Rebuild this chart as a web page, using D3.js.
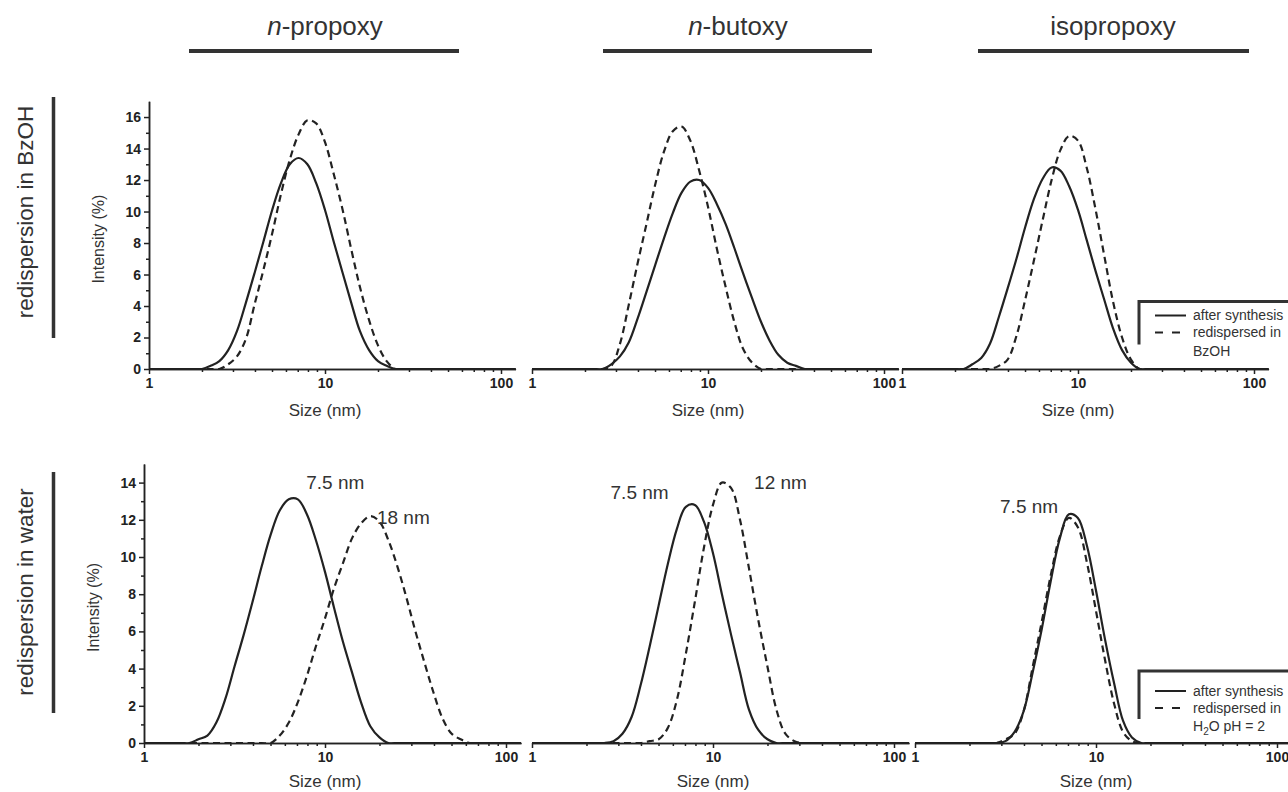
<!DOCTYPE html>
<html>
<head>
<meta charset="utf-8">
<script src="https://cdn.jsdelivr.net/npm/d3@7"></script>
<style>
  html, body { margin: 0; padding: 0; background: #fff; }
  svg { display: block; font-family: "Liberation Sans", Arial, sans-serif; }
  .axis path, .axis line { stroke: #222; stroke-width: 1.5; }
  .axis text { font-size: 14px; font-weight: bold; fill: #222; font-family: "Liberation Sans", Arial, sans-serif; }
</style>
</head>
<body>
<svg id="chart" width="1288" height="792"></svg>
<script>
// DLS size bins (nm), shared by every curve
var sizes = [1.00, 1.12, 1.26, 1.41, 1.58, 1.78, 2.00, 2.24, 2.51, 2.82, 3.16, 3.55, 3.98, 4.47, 5.01,
  5.62, 6.31, 7.08, 7.94, 8.91, 10.0, 11.2, 12.6, 14.1, 15.8, 17.8, 20.0, 22.4, 25.1, 28.2,
  31.6, 35.5, 39.8, 44.7, 50.1, 56.2, 63.1, 70.8, 79.4, 89.1, 100, 112, 126];

// intensity (%) per bin — top row: redispersion in BzOH
var propoxyBzohAfter = [0,0,0,0,0,0,0, 0.2,0.5,1.2,2.4,4.2,6.1,8.1,10.1,11.8,13.0,13.4,13.0,11.8,10.1,8.1,6.1,4.2,2.4,1.2,0.5,0.2, 0,0,0,0,0,0,0,0,0,0,0,0,0,0,0];
var propoxyBzohRedisp = [0,0,0,0,0,0,0,0,0, 0.3,0.8,1.9,4.1,6.3,8.6,11.1,13.3,14.9,15.8,15.6,14.4,12.4,10.1,7.6,5.2,3.1,1.5,0.5, 0,0,0,0,0,0,0,0,0,0,0,0,0,0,0];
var butoxyBzohAfter = [0,0,0,0,0,0,0,0,0, 0.3,0.8,1.7,3.2,4.9,6.6,8.3,9.9,11.2,11.9,12.0,11.5,10.5,9.2,7.7,6.1,4.5,3.0,1.8,0.9,0.4,0.2, 0,0,0,0,0,0,0,0,0,0,0,0];
var butoxyBzohRedisp = [0,0,0,0,0,0,0,0,0, 0.2,1.6,4.1,6.7,9.2,11.7,13.8,15.1,15.4,14.5,12.6,10.3,7.7,5.2,3.0,1.3,0.4, 0,0,0,0,0,0,0,0,0,0,0,0,0,0,0,0,0];
var isoBzohAfter = [0,0,0,0,0,0,0,0, 0.3,0.7,1.6,3.3,5.1,7.0,9.0,10.8,12.1,12.8,12.6,11.6,10.1,8.2,6.2,4.4,2.6,1.2,0.4, 0,0,0,0,0,0,0,0,0,0,0,0,0,0,0,0];
var isoBzohRedisp = [0,0,0,0,0,0,0,0,0,0,0, 0.2,0.6,2.1,4.4,6.9,9.5,12.0,13.9,14.8,14.5,12.8,10.1,7.2,4.3,2.0,0.6, 0,0,0,0,0,0,0,0,0,0,0,0,0,0,0,0];

// bottom row: redispersion in water
var propoxyWaterAfter = [0,0,0,0,0,0, 0.2,0.4,1.1,2.4,4.1,5.8,7.6,9.5,11.2,12.5,13.1,13.1,12.3,10.9,9.2,7.3,5.4,3.8,2.2,0.9,0.3, 0,0,0,0,0,0,0,0,0,0,0,0,0,0,0,0];
var propoxyWaterRedisp = [0,0,0,0,0,0,0,0,0,0,0,0,0,0,0, 0.4,1.1,2.2,3.6,5.2,6.7,8.3,9.7,11.0,11.8,12.2,11.9,10.9,9.5,7.8,6.0,4.3,2.7,1.3,0.5,0.2, 0,0,0,0,0,0,0];
var butoxyWaterAfter = [0,0,0,0,0,0,0,0,0, 0.1,0.5,1.4,3.1,5.2,7.4,9.6,11.5,12.7,12.8,11.9,10.2,8.0,5.8,3.8,1.8,0.7,0.2, 0,0,0,0,0,0,0,0,0,0,0,0,0,0,0,0];
var butoxyWaterRedisp = [0,0,0,0,0,0,0,0,0,0,0,0,0, 0.1,0.2,0.8,2.3,4.8,7.6,10.5,12.8,14.0,13.7,12.0,9.4,6.6,4.1,1.8,0.5,0.1, 0,0,0,0,0,0,0,0,0,0,0,0,0];
var isoWaterAfter = [0,0,0,0,0,0,0,0,0,0, 0.1,0.6,1.7,3.8,6.1,8.7,11.0,12.3,12.1,10.6,8.2,5.6,3.2,1.2,0.3, 0,0,0,0,0,0,0,0,0,0,0,0,0,0,0,0,0,0];
var isoWaterRedisp = [0,0,0,0,0,0,0,0,0,0, 0.2,0.5,1.7,4.1,6.5,9.0,11.1,12.1,11.6,9.7,7.1,4.5,2.1,0.6,0.1, 0,0,0,0,0,0,0,0,0,0,0,0,0,0,0,0,0,0];

var columnTitles = [["n", "-propoxy"], ["n", "-butoxy"], ["", "isopropoxy"]];
var rowTitles = ["redispersion in BzOH", "redispersion in water"];
var majorX = [1, 10, 100];
var minorX = [2, 3, 4, 5, 6, 7, 8, 9, 20, 30, 40, 50, 60, 70, 80, 90];
var legendTop = ["after synthesis", "redispersed in", "BzOH"];
var legendBottom = ["after synthesis", "redispersed in", "H2O pH = 2"];

// peak labels: [column, size (nm), intensity, text]
var peakLabels = [
  [0, 11.4, 14.0, "7.5 nm"],
  [0, 27.1, 12.15, "18 nm"],
  [1, 3.93, 13.45, "7.5 nm"],
  [1, 23.6, 14.0, "12 nm"],
  [2, 4.27, 12.7, "7.5 nm"]
];

var svg = d3.select("#chart");
var ink = "#222";

var rows = [
  { yMax: 17, yRange: [369, 101.3], yTicks: d3.range(0, 17, 2), yMinor: d3.range(1, 17, 2),
    x0: [149, 532, 902], decade: 176,
    series: [[propoxyBzohAfter, propoxyBzohRedisp], [butoxyBzohAfter, butoxyBzohRedisp], [isoBzohAfter, isoBzohRedisp]] },
  { yMax: 15, yRange: [743, 464], yTicks: d3.range(0, 15, 2), yMinor: d3.range(1, 15, 2),
    x0: [144, 532, 915], decade: 181,
    series: [[propoxyWaterAfter, propoxyWaterRedisp], [butoxyWaterAfter, butoxyWaterRedisp], [isoWaterAfter, isoWaterRedisp]] }
];

var xMax = 121;
var defs = svg.append("defs");

rows.forEach(function (row, r) {
  var y = d3.scaleLinear().domain([0, row.yMax]).range(row.yRange);
  var y0 = y(0);

  row.x0.forEach(function (left, c) {
    var x = d3.scaleLog().domain([1, xMax]).range([left, left + row.decade * Math.log10(xMax)]);
    var g = svg.append("g");

    var clipId = "clip" + r + c;
    defs.append("clipPath").attr("id", clipId).append("rect")
      .attr("x", x.range()[0]).attr("y", y.range()[1] - 5)
      .attr("width", x.range()[1] - x.range()[0]).attr("height", y0 - y.range()[1] + 6);

    var line = d3.line()
      .x(function (d, i) { return x(sizes[i]); })
      .y(function (d) { return y(d); })
      .curve(d3.curveCatmullRom.alpha(0.5));

    var pair = row.series[c];
    g.append("path").datum(pair[1])
      .attr("clip-path", "url(#" + clipId + ")")
      .attr("d", line).attr("fill", "none")
      .attr("stroke", ink).attr("stroke-width", 2.2)
      .attr("stroke-dasharray", "7,4.5");
    g.append("path").datum(pair[0])
      .attr("clip-path", "url(#" + clipId + ")")
      .attr("d", line).attr("fill", "none")
      .attr("stroke", ink).attr("stroke-width", 2.2);

    // x axis
    g.append("g").attr("class", "axis")
      .attr("transform", "translate(0," + y0 + ")")
      .call(d3.axisBottom(x).tickValues(minorX).tickFormat("").tickSize(3).tickSizeOuter(0));
    var ax = g.append("g").attr("class", "axis")
      .attr("transform", "translate(0," + y0 + ")")
      .call(d3.axisBottom(x).tickValues(majorX).tickFormat(d3.format("d")).tickSize(5).tickSizeOuter(0));
    ax.selectAll("text").attr("y", 9);

    g.append("text")
      .attr("x", x(10)).attr("y", y0 + (r === 0 ? 47 : 44))
      .attr("text-anchor", "middle")
      .attr("font-size", 17).attr("fill", "#333")
      .text("Size (nm)");

    if (c === 0) {
      g.append("g").attr("class", "axis")
        .attr("transform", "translate(" + left + ",0)")
        .call(d3.axisLeft(y).tickValues(row.yMinor).tickFormat("").tickSize(3).tickSizeOuter(0));
      g.append("g").attr("class", "axis")
        .attr("transform", "translate(" + left + ",0)")
        .call(d3.axisLeft(y).tickValues(row.yTicks).tickSize(5).tickSizeOuter(0))
        .selectAll("text").attr("x", -8);
      g.append("text")
        .attr("transform", "translate(" + (left - 45) + "," + ((y.range()[0] + y.range()[1]) / 2 + 4) + ") rotate(-90)")
        .attr("text-anchor", "middle")
        .attr("font-size", 16).attr("fill", "#333")
        .text("Intensity (%)");
    }

    if (r === 1) {
      peakLabels.filter(function (p) { return p[0] === c; }).forEach(function (p) {
        g.append("text")
          .attr("x", x(p[1])).attr("y", y(p[2]))
          .attr("dy", "0.35em")
          .attr("text-anchor", "middle")
          .attr("font-size", 19).attr("fill", "#333")
          .text(p[3]);
      });
    }
  });
});

// column headers
var headerCenters = [325, 738, 1113];
var headerBars = [[189, 459], [603, 872], [978, 1249]];
columnTitles.forEach(function (t, i) {
  var tx = svg.append("text")
    .attr("x", headerCenters[i]).attr("y", 35)
    .attr("text-anchor", "middle")
    .attr("font-size", 26).attr("fill", "#333");
  tx.append("tspan").attr("font-style", "italic").text(t[0]);
  tx.append("tspan").text(t[1]);
  svg.append("line")
    .attr("x1", headerBars[i][0]).attr("x2", headerBars[i][1])
    .attr("y1", 51).attr("y2", 51)
    .attr("stroke", "#333").attr("stroke-width", 4);
});

// row headers
var rowCenters = [212, 592];
var rowBars = [[97, 338], [472, 713]];
rowTitles.forEach(function (t, i) {
  svg.append("text")
    .attr("transform", "translate(33," + rowCenters[i] + ") rotate(-90)")
    .attr("text-anchor", "middle")
    .attr("font-size", 22.5).attr("fill", "#333")
    .text(t);
  svg.append("line")
    .attr("x1", 53.5).attr("x2", 53.5)
    .attr("y1", rowBars[i][0]).attr("y2", rowBars[i][1])
    .attr("stroke", "#333").attr("stroke-width", 3.5);
});

// legends
function legend(top, texts, offs) {
  var lg = svg.append("g");
  lg.append("path")
    .attr("d", "M1139," + (top + offs[3]) + "V" + top + "H1290")
    .attr("fill", "none").attr("stroke", "#333").attr("stroke-width", 3);
  lg.append("line").attr("x1", 1155).attr("x2", 1186)
    .attr("y1", top + offs[0]).attr("y2", top + offs[0])
    .attr("stroke", ink).attr("stroke-width", 2);
  lg.append("line").attr("x1", 1155).attr("x2", 1184)
    .attr("y1", top + offs[1]).attr("y2", top + offs[1])
    .attr("stroke", ink).attr("stroke-width", 2).attr("stroke-dasharray", "8,9");
  var lines = [offs[0], offs[1], offs[2]];
  texts.forEach(function (s, i) {
    var t = lg.append("text")
      .attr("x", 1193).attr("y", top + lines[i])
      .attr("dy", i === 2 ? 0 : "0.35em")
      .attr("font-size", 14).attr("fill", "#333");
    if (s.indexOf("H2O") === 0) {
      t.append("tspan").text("H");
      t.append("tspan").attr("font-size", 10).attr("dy", 4).text("2");
      t.append("tspan").attr("dy", -4).text("O pH = 2");
    } else {
      t.text(s);
    }
  });
}
legend(301.5, legendTop, [14, 31, 54, 43]);
legend(671, legendBottom, [20, 37, 60, 48]);
</script>
</body>
</html>
